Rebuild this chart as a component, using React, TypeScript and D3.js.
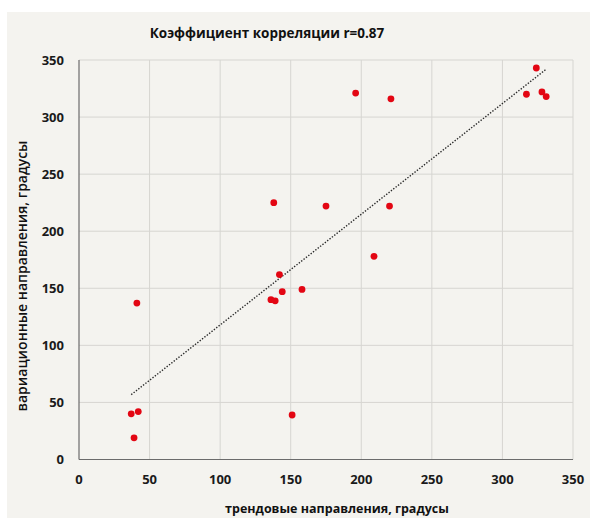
import { useRef, useEffect } from "react";
import * as d3 from "d3";

// trend (x) vs variation (y) directions, degrees
const trendDir = [324, 196, 221, 317, 328, 331, 138, 175, 220, 209, 142, 144, 158, 136, 139, 41, 42, 37, 39, 151];
const varDir = [343, 321, 316, 320, 322, 318, 225, 222, 222, 178, 162, 147, 149, 140, 139, 137, 42, 40, 19, 39];
const ticks = [0, 50, 100, 150, 200, 250, 300, 350];

const chartTitle = "Коэффициент корреляции r=0.87";
const xTitle = "трендовые направления, градусы";
const yTitle = "вариационные направления, градусы";

const W = 590;
const H = 518;
const FONT = "'Open Sans', 'Noto Sans', sans-serif";

export default function App() {
  const root = useRef<SVGSVGElement>(null);

  useEffect(() => {
    const svg = d3.select(root.current);
    svg.selectAll("*").remove();

    const x = d3.scaleLinear([0, 350], [79, 573]);
    const y = d3.scaleLinear([0, 350], [459.5, 60]);

    // panel background
    svg.append("rect")
      .attr("x", 7).attr("y", 12)
      .attr("width", W - 7).attr("height", H - 12)
      .attr("fill", "#f4f3ef");

    // grid
    const grid = svg.append("g");
    grid.selectAll("line.v")
      .data(ticks.slice(1))
      .enter().append("line")
      .attr("x1", d => x(d)).attr("x2", d => x(d))
      .attr("y1", y(0)).attr("y2", y(350))
      .attr("stroke", "#d6d5d1").attr("stroke-width", 1);
    grid.selectAll("line.h")
      .data(ticks.slice(1))
      .enter().append("line")
      .attr("x1", x(0)).attr("x2", x(350))
      .attr("y1", d => y(d)).attr("y2", d => y(d))
      .attr("stroke", "#d6d5d1").attr("stroke-width", 1);

    // axes lines
    svg.append("line")
      .attr("x1", x(0)).attr("x2", x(0))
      .attr("y1", y(0)).attr("y2", y(350))
      .attr("stroke", "#6b6b6b").attr("stroke-width", 1.2);
    svg.append("line")
      .attr("x1", x(0)).attr("x2", x(350))
      .attr("y1", y(0)).attr("y2", y(0))
      .attr("stroke", "#6b6b6b").attr("stroke-width", 1.2);

    // tick labels
    svg.append("g").selectAll("text")
      .data(ticks)
      .enter().append("text")
      .attr("x", 64)
      .attr("y", d => y(d) + 4.5)
      .attr("text-anchor", "end")
      .attr("font-family", FONT).attr("font-weight", "bold")
      .attr("font-size", 13).attr("fill", "#1a1a1a")
      .text(d => d);
    svg.append("g").selectAll("text")
      .data(ticks)
      .enter().append("text")
      .attr("x", d => x(d))
      .attr("y", 484)
      .attr("text-anchor", "middle")
      .attr("font-family", FONT).attr("font-weight", "bold")
      .attr("font-size", 13).attr("fill", "#1a1a1a")
      .text(d => d);

    // linear trend
    const pts = trendDir.map((t, i) => [t, varDir[i]] as [number, number]);
    const mx = d3.mean(trendDir)!;
    const my = d3.mean(varDir)!;
    const slope = d3.sum(pts, p => (p[0] - mx) * (p[1] - my)) / d3.sum(pts, p => (p[0] - mx) ** 2);
    const icpt = my - slope * mx;
    const [x0, x1] = d3.extent(trendDir) as [number, number];
    svg.append("line")
      .attr("x1", x(x0)).attr("y1", y(icpt + slope * x0))
      .attr("x2", x(x1)).attr("y2", y(icpt + slope * x1))
      .attr("stroke", "#2a2a2a").attr("stroke-width", 1.4)
      .attr("stroke-dasharray", "1.4,1.6");

    // points
    svg.append("g").selectAll("circle")
      .data(pts)
      .enter().append("circle")
      .attr("cx", d => x(d[0]))
      .attr("cy", d => y(d[1]))
      .attr("r", 3.4)
      .attr("fill", "#e30613");

    // titles
    svg.append("text")
      .attr("x", 267).attr("y", 38)
      .attr("text-anchor", "middle")
      .attr("font-family", FONT).attr("font-weight", "bold")
      .attr("font-size", 13.5).attr("fill", "#111")
      .text(chartTitle);
    svg.append("text")
      .attr("x", 337).attr("y", 513)
      .attr("text-anchor", "middle")
      .attr("font-family", FONT).attr("font-weight", "bold")
      .attr("font-size", 12.5).attr("fill", "#111")
      .text(xTitle);
    svg.append("text")
      .attr("transform", "translate(27,276) rotate(-90)")
      .attr("text-anchor", "middle")
      .attr("font-family", FONT).attr("font-weight", 600)
      .attr("font-size", 14).attr("fill", "#111")
      .text(yTitle);
  }, []);

  return (
    <svg
      ref={root}
      width={W}
      height={H}
      style={{ position: "absolute", left: 0, top: 0 }}
    />
  );
}
